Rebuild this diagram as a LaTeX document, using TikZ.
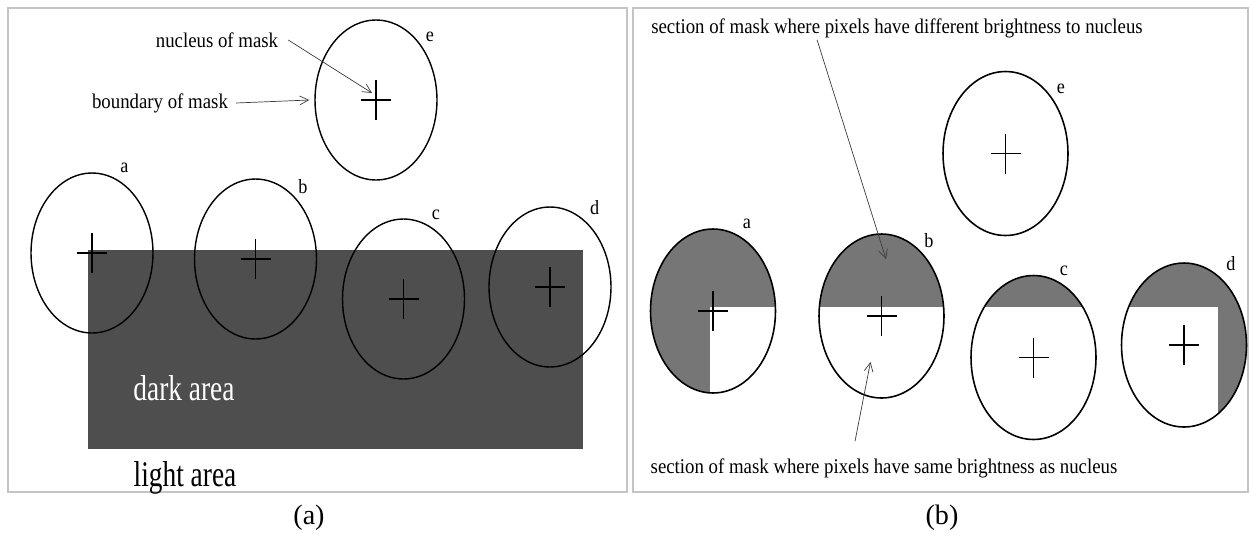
\documentclass[tikz,border=0pt]{standalone}
\usepackage{fontspec}
\setmainfont{Liberation Serif}
\newfontfamily\maskfont[FakeStretch=0.9]{Liberation Serif}
\newfontfamily\areafont[FakeStretch=0.76]{Liberation Serif}
\usetikzlibrary{shapes.geometric,arrows.meta,positioning}
\definecolor{darkArea}{RGB}{78,78,78}
\definecolor{maskGray}{RGB}{118,118,118}
\definecolor{frameGray}{RGB}{196,196,196}
\definecolor{pointerGray}{RGB}{60,60,60}
\tikzset{
  mask/.style={ellipse, draw, line width=0.8pt, minimum width=2.44cm,
               minimum height=3.2cm, inner sep=0pt},
  maskR/.style={mask, line width=0.9pt, minimum width=2.5cm,
                minimum height=3.28cm},
  tag/.style={font=\maskfont\fontsize{11.5}{13}\selectfont, inner sep=0pt},
  note/.style={font=\maskfont\fontsize{11.9}{14}\selectfont, inner sep=1pt},
  area/.style={font=\areafont\fontsize{20.5}{24}\selectfont, inner sep=0pt},
  pointer/.style={-{Straight Barb[length=5pt,width=5pt]}, pointerGray,
                  line width=0.4pt},
}
\newcommand\nucleuscross[1]{%
  \draw[line width=0.6pt] (#1) +(-15,0) -- +(15,0) +(0,-20) -- +(0,20);}

\begin{document}
\begin{tikzpicture}[x=0.02cm, y=0.02cm]
  \useasboundingbox (0,0) rectangle (1251,-535);
  % Panel frames
  \draw[frameGray, line width=1.6pt] (8,-8) rectangle (627,-492);
  \draw[frameGray, line width=1.6pt] (633,-8) rectangle (1248,-492);

  % ---- (a) masks over a dark area ----
  \fill[darkArea] (88,-250) rectangle (583,-449);
  \node[mask] (maskLe) at (376,-100) {};
  \node[mask] (maskLa) at (92,-253) {};
  \node[mask] (maskLb) at (255.5,-259) {};
  \node[mask] (maskLc) at (403.5,-299) {};
  \node[mask] (maskLd) at (550,-287) {};
  \nucleuscross{maskLe.center}
  \nucleuscross{maskLa.center}
  \nucleuscross{maskLb.center}
  \nucleuscross{maskLc.center}
  \nucleuscross{maskLd.center}
  % Letters
  \node[tag] (tagLe) at (430,-37) {e};
  \node[tag] (tagLa) at (124.5,-168) {a};
  \node[tag] (tagLb) at (303,-187) {b};
  \node[tag] (tagLc) at (436,-215) {c};
  \node[tag] (tagLd) at (594.6,-208) {d};
  % Pointers
  \node[note] (nucText) at (217,-40) {nucleus of mask};
  \node[note] (bndText) at (160,-103) {boundary of mask};
  \draw[pointer] ([xshift=0.16cm]nucText.east)
    -- ([xshift=-0.08cm,yshift=0.14cm]maskLe.center);
  \draw[pointer] ([xshift=0.12cm]bndText.east) -- ([xshift=-0.1cm]maskLe.west);
  % Areas
  \node[area, white] (darkText) at (184,-388) {dark area};
  \node[area] (lightText) at (185,-478) {light area};

  % ---- (b) brightness sections of the masks ----
  \begin{scope}
    \clip (713,-311) ellipse (62.5 and 82);
    \fill[maskGray] (640,-220) rectangle (790,-307);
    \fill[maskGray] (640,-307) rectangle (710,-400);
  \end{scope}
  \begin{scope}
    \clip (881.5,-316) ellipse (62.5 and 82);
    \fill[maskGray] (810,-225) rectangle (955,-307);
  \end{scope}
  \begin{scope}
    \clip (1033.5,-357.5) ellipse (62.5 and 82);
    \fill[maskGray] (960,-270) rectangle (1110,-307);
  \end{scope}
  \begin{scope}
    \clip (1184,-345) ellipse (62.5 and 82);
    \fill[maskGray] (1110,-255) rectangle (1260,-307);
    \fill[maskGray] (1218,-307) rectangle (1260,-440);
  \end{scope}
  \node[maskR] (maskRe) at (1005.5,-153.5) {};
  \node[maskR] (maskRa) at (713,-311) {};
  \node[maskR] (maskRb) at (881.5,-316) {};
  \node[maskR] (maskRc) at (1033.5,-357.5) {};
  \node[maskR] (maskRd) at (1184,-345) {};
  \nucleuscross{maskRe.center}
  \nucleuscross{maskRa.center}
  \nucleuscross{maskRb.center}
  \nucleuscross{maskRc.center}
  \nucleuscross{maskRd.center}
  % Letters
  \node[tag] (tagRe) at (1061,-89) {e};
  \node[tag] (tagRa) at (747,-224) {a};
  \node[tag] (tagRb) at (929,-241) {b};
  \node[tag] (tagRc) at (1064,-271) {c};
  \node[tag] (tagRd) at (1231,-264) {d};
  % Pointers
  \node[note] (diffText) at (897,-28)
    {section of mask where pixels have different brightness to nucleus};
  \node[note] (sameText) at (884,-468)
    {section of mask where pixels have same brightness as nucleus};
  \draw[pointer] ([xshift=-1.6cm]diffText.south)
    -- ([xshift=0.09cm,yshift=1.14cm]maskRb.center);
  \draw[pointer] ([xshift=-0.58cm,yshift=0.3cm]sameText.north)
    -- ([xshift=-0.22cm,yshift=-0.92cm]maskRb.center);

  % Captions
  \node[font=\fontsize{16}{19}\selectfont] (capA) at (309,-518) {(a)};
  \node[font=\fontsize{16}{19}\selectfont] (capB) at (942,-518) {(b)};
\end{tikzpicture}
\end{document}
